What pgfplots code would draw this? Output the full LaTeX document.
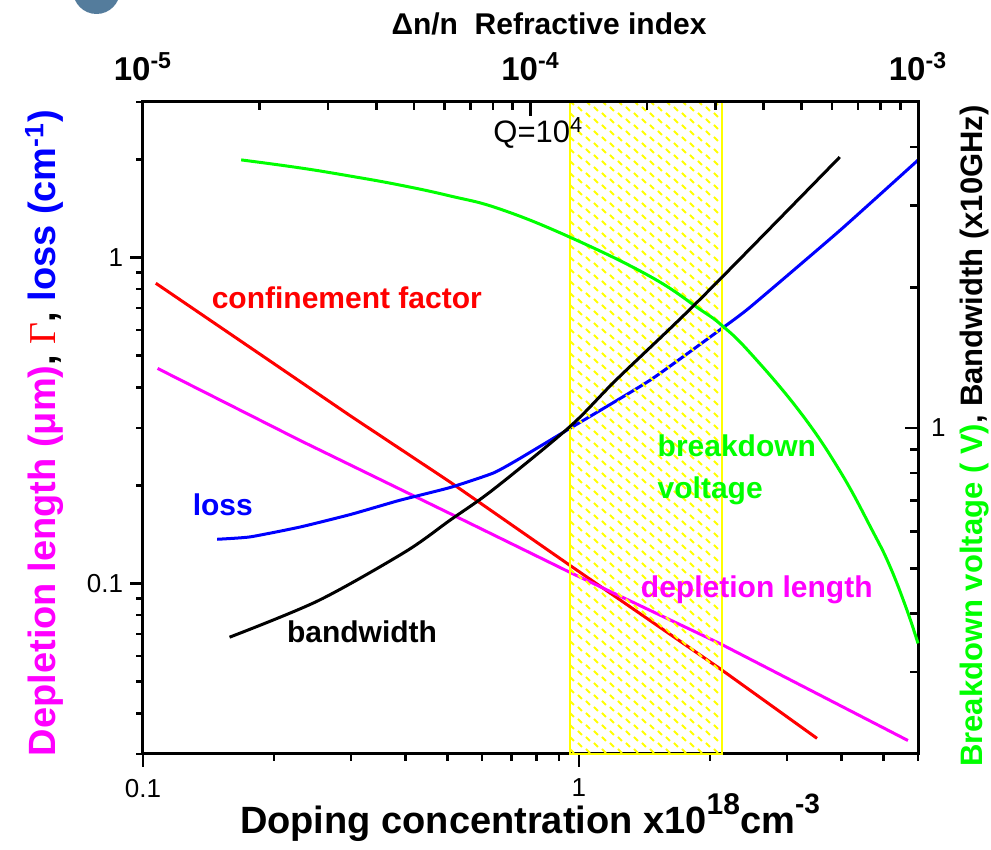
\documentclass[border=0pt]{standalone}
\usepackage{fontspec}
\setmainfont{Liberation Sans}
\newfontfamily\seriffont{Liberation Serif}
\usepackage{pgfplots}
\pgfplotsset{compat=1.18}
\usetikzlibrary{patterns}
\definecolor{cgreen}{RGB}{0,255,0}
\definecolor{cblue}{RGB}{0,0,255}
\definecolor{cred}{RGB}{255,0,0}
\definecolor{cmag}{RGB}{255,0,255}
\definecolor{cyel}{RGB}{255,255,0}
\definecolor{circ}{RGB}{84,124,156}
\pgfdeclarepatternformonly{yhatch}{\pgfqpoint{-1pt}{-1pt}}{\pgfqpoint{9pt}{7pt}}{\pgfqpoint{8pt}{6pt}}{%
  \pgfsetlinewidth{0.9pt}%
  \pgfpathmoveto{\pgfqpoint{1.0pt}{5.5pt}}\pgfpathlineto{\pgfqpoint{3.0pt}{3.5pt}}%
  \pgfpathmoveto{\pgfqpoint{5.0pt}{2.5pt}}\pgfpathlineto{\pgfqpoint{7.0pt}{0.5pt}}%
  \pgfusepath{stroke}}
\pgfplotsset{
  base/.style={scale only axis, width=387.5pt, height=326pt, at={(0pt,0pt)}, anchor=south west,
    axis line style={line width=1.5pt, black},
    major tick style={line width=1.3pt, black},
    minor tick style={line width=1.3pt, black},
    tick label style={font=\fontsize{13}{14}\selectfont},
    clip=false}
}
\begin{document}
\begin{tikzpicture}
\path[use as bounding box] (-71.5pt,-48pt) rectangle (424pt,377pt);
\fill[circ] (-23.25pt,381.75pt) circle (11.75pt);
% main axis (bottom + left)
\begin{axis}[base, xmode=log, ymode=log, xmin=0.1, xmax=6, ymin=0.03, ymax=3,
  xtick={0.1,1}, xticklabels={0.1,1},
  minor xtick={0.2,0.3,0.4,0.5,0.6,0.7,0.8,0.9,2,3,4,5,6},
  ytick={0.1,1}, yticklabels={0.1,1},
  minor ytick={0.03,0.04,0.05,0.06,0.07,0.08,0.09,0.2,0.3,0.4,0.5,0.6,0.7,0.8,0.9,2,3},
  xtick pos=left, ytick pos=left, tick align=outside,
  major tick length=6.5pt, minor tick length=3.5pt,
  xticklabel style={yshift=-2.5pt}]
\addplot[cred, line width=1.5pt] coordinates {
(0.107,0.834) (0.2,0.472) (0.3,0.326) (0.506,0.205) (0.953,0.1138) (2.10,0.055) (3.52,0.0335)};
\addplot[cmag, line width=1.5pt] coordinates {
(0.108,0.457) (0.229,0.275) (0.506,0.164) (0.953,0.1083) (2.10,0.0656) (3.97,0.0423) (5.69,0.033)};
\addplot[cblue, line width=1.5pt, smooth, tension=0.3] coordinates {
(0.148,0.1367) (0.176,0.139) (0.229,0.149) (0.30,0.163) (0.388,0.180) (0.506,0.197) (0.635,0.218) (0.721,0.239) (0.953,0.299) (1.455,0.420) (2.10,0.598) (2.47,0.704) (3.97,1.21) (6.0,1.99)};
\addplot[draw=cyel, line width=1pt, pattern=yhatch, pattern color=cyel] coordinates {
(0.955,0.03) (2.13,0.03) (2.13,3) (0.955,3)} -- cycle;
\end{axis}
% top axis
\begin{axis}[base, xmode=log, xmin=1e-5, xmax=1e-3, ymin=0, ymax=1,
  hide y axis, axis x line*=top, xtick pos=right, xticklabel pos=right,
  xtick={1e-5,1e-4,1e-3},
  xticklabels={10\textsuperscript{-5},10\textsuperscript{-4},10\textsuperscript{-3}},
  minor xtick={2e-5,3e-5,4e-5,5e-5,6e-5,7e-5,8e-5,9e-5,2e-4,3e-4,4e-4,5e-4,6e-4,7e-4,8e-4,9e-4},
  tick align=inside, major tick length=7pt, minor tick length=4pt,
  xticklabel style={font=\bfseries\fontsize{16.5}{17}\selectfont, yshift=7pt}]
\end{axis}
% right axis
\begin{axis}[base, xmode=log, ymode=log, xmin=0.1, xmax=6, ymin=0.2, ymax=5,
  hide x axis, axis y line*=right, ytick pos=right, yticklabel pos=right,
  ytick={1}, yticklabels={1},
  minor ytick={0.2,0.3,0.4,0.5,0.6,0.7,0.8,0.9,2,3,4,5},
  tick align=inside, major tick length=6.5pt, minor tick length=4pt,
  yticklabel style={xshift=3pt}]
\addplot[cgreen, line width=1.5pt, smooth, tension=0.7] coordinates {
(0.168,3.757) (0.229,3.612) (0.298,3.470) (0.388,3.319) (0.506,3.145) (0.659,2.948) (0.953,2.566) (1.455,2.115) (1.895,1.797) (2.128,1.660) (2.467,1.452) (3.213,1.084) (3.97,0.8095) (4.72,0.6013) (5.17,0.5057) (5.65,0.4088) (6.0,0.3453)};
\addplot[black, line width=1.5pt, smooth, tension=0.5] coordinates {
(0.158,0.356) (0.252,0.426) (0.399,0.542) (0.506,0.634) (0.635,0.737) (0.953,1.006) (1.22,1.27) (1.90,1.89) (3.97,3.81)};
\node[cred, font=\bfseries\fontsize{15}{18}\selectfont] at (rel axis cs:0.263,0.699) {confinement factor};
\node[cblue, font=\bfseries\fontsize{15}{18}\selectfont] at (rel axis cs:0.103,0.382) {loss};
\node[cgreen, font=\bfseries\fontsize{15}{21}\selectfont, anchor=west, align=left] at (rel axis cs:0.655,0.436) {breakdown\\voltage};
\node[cmag, font=\bfseries\fontsize{15}{18}\selectfont] at (rel axis cs:0.792,0.2515) {depletion length};
\node[black, font=\bfseries\fontsize{15}{18}\selectfont] at (rel axis cs:0.2826,0.187) {bandwidth};
\node[black, font=\fontsize{15.5}{18}\selectfont, anchor=west] at (rel axis cs:0.443,0.9525) {Q=10\textsuperscript{4}};
\end{axis}
% axis labels
\node[rotate=90, anchor=base, font=\bfseries\fontsize{19}{22}\selectfont] at (-43.5pt,160.5pt)
  {\color{cmag}Depletion length (μm)\color{black}, {\color{cred}\seriffont\mdseries Γ}, \color{cblue}loss (cm\textsuperscript{-1})};
\node[rotate=90, anchor=base, font=\bfseries\fontsize{15.5}{18}\selectfont] at (419.5pt,159pt)
  {\color{cgreen}Breakdown voltage ( V)\color{black}, Bandwidth (x10GHz)};
\node[anchor=base, font=\bfseries\fontsize{19}{22}\selectfont] at (193.5pt,-40pt)
  {Doping concentration x10\raisebox{0.5em}{\fontsize{15}{15}\selectfont 18}cm\raisebox{0.55em}{\fontsize{14}{14}\selectfont -3}};
\node[anchor=base, font=\bfseries\fontsize{15}{18}\selectfont] at (203pt,359.5pt)
  {Δn/n\ \ Refractive index};
\end{tikzpicture}
\end{document}
